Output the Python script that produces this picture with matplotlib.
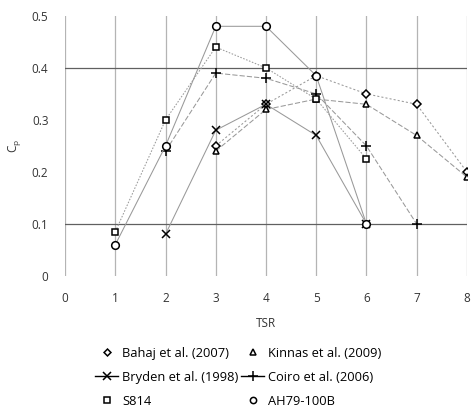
import matplotlib
matplotlib.use("Agg")
import matplotlib.pyplot as plt
from matplotlib.lines import Line2D

plt.rcParams['font.family'] = ['Open Sans', 'DejaVu Sans']

# TSR values and power coefficients per source
tsr_bahaj = [3, 4, 5, 6, 7, 8]
cp_bahaj = [0.25, 0.33, 0.385, 0.35, 0.33, 0.20]

tsr_kinnas = [3, 4, 5, 6, 7, 8]
cp_kinnas = [0.24, 0.32, 0.34, 0.33, 0.27, 0.19]

tsr_bryden = [2, 3, 4, 5, 6]
cp_bryden = [0.08, 0.28, 0.33, 0.27, 0.10]

tsr_coiro = [2, 3, 4, 5, 6, 7]
cp_coiro = [0.24, 0.39, 0.38, 0.35, 0.25, 0.10]

tsr_s814 = [1, 2, 3, 4, 5, 6]
cp_s814 = [0.085, 0.30, 0.44, 0.40, 0.34, 0.225]

tsr_ah79 = [1, 2, 3, 4, 5, 6]
cp_ah79 = [0.06, 0.25, 0.48, 0.48, 0.385, 0.10]

fig = plt.figure(figsize=(4.72, 4.08), dpi=100)
ax = fig.add_axes([0.138, 0.324, 0.851, 0.637])

# grid: vertical grey lines, two dark horizontal lines
for xv in range(0, 9):
    ax.axvline(xv, color='#b4b4b4', lw=0.9, zorder=0)
for yv in [0.1, 0.4]:
    ax.axhline(yv, color='#606060', lw=0.9, zorder=0)

line_col = '#999999'
lw = 0.75
mk = dict(markerfacecolor='white', markeredgecolor='black', markeredgewidth=1.1)
ax.plot(tsr_bahaj, cp_bahaj, color=line_col, lw=lw, ls=(0, (2, 2)), marker='D', ms=3.8, **mk)
ax.plot(tsr_kinnas, cp_kinnas, color=line_col, lw=lw, ls=(0, (5, 2)), marker='^', ms=5, **mk)
ax.plot(tsr_bryden, cp_bryden, color=line_col, lw=lw, ls='-', marker='x', ms=5.5,
        markeredgecolor='black', markeredgewidth=1.1)
ax.plot(tsr_coiro, cp_coiro, color=line_col, lw=lw, ls=(0, (5, 2)), marker='+', ms=6.5,
        markeredgecolor='black', markeredgewidth=1.1)
ax.plot(tsr_s814, cp_s814, color=line_col, lw=lw, ls=(0, (1.5, 1.5)), marker='s', ms=5, **mk)
ax.plot(tsr_ah79, cp_ah79, color=line_col, lw=lw, ls='-', marker='o', ms=5.5, **mk)

ax.set_xlim(0, 8)
ax.set_ylim(0, 0.5)
ax.set_xticks(range(0, 9))
ax.set_yticks([0, 0.1, 0.2, 0.3, 0.4, 0.5])
ax.set_yticklabels(['0', '0.1', '0.2', '0.3', '0.4', '0.5'])
for s in ax.spines.values():
    s.set_visible(False)
ax.tick_params(length=0, labelsize=8.5, colors='#333333', pad=12)
ax.tick_params(axis='x', pad=12)
ax.set_xlabel('TSR', fontsize=8.5, color='#333333', labelpad=8)
ax.set_ylabel(r'$\mathregular{C_p}$', fontsize=8.5, color='#333333', labelpad=6)

handles = [
    Line2D([], [], ls='none', marker='D', ms=3.5, **mk),
    Line2D([], [], color='black', lw=1, marker='x', ms=5.5, markeredgecolor='black', markeredgewidth=1.1),
    Line2D([], [], ls='none', marker='s', ms=4.5, **mk),
    Line2D([], [], ls='none', marker='^', ms=4.5, **mk),
    Line2D([], [], color='black', lw=1, marker='+', ms=6.5, markeredgecolor='black', markeredgewidth=1.1),
    Line2D([], [], ls='none', marker='o', ms=4.5, **mk),
]
labels = ['Bahaj et al. (2007)', 'Bryden et al. (1998)', 'S814',
          'Kinnas et al. (2009)', 'Coiro et al. (2006)', 'AH79-100B']
fig.legend(handles, labels, ncol=2, loc='upper center', bbox_to_anchor=(0.505, 0.178),
           frameon=False, fontsize=9.3, handlelength=1.8, columnspacing=0.2,
           labelspacing=0.85, handletextpad=0.3)

fig.savefig('out.png', dpi=100)
